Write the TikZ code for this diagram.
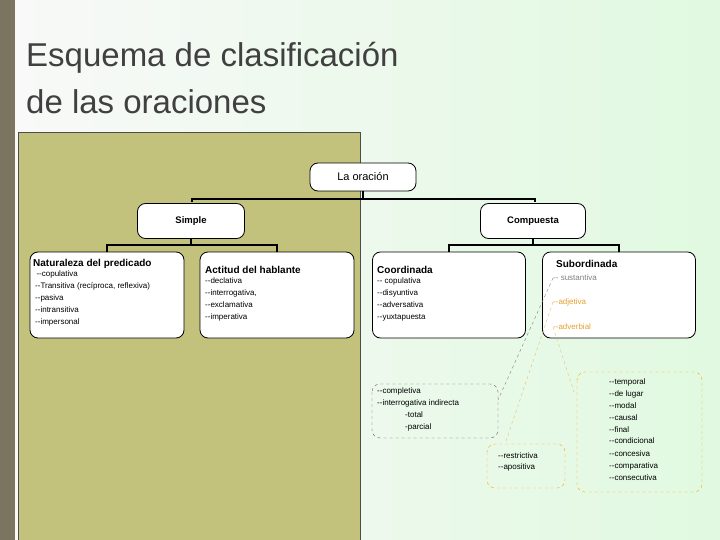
\documentclass[tikz,border=0pt]{standalone}
\usepackage{fontspec}
\setmainfont[Ligatures=TeXOff]{Liberation Sans}
\begin{document}
\begin{tikzpicture}[x=1pt,y=-1pt,
  box/.style={draw,thick,rounded corners=8pt,fill=white,inner sep=0pt},
  hd/.style={font=\bfseries\fontsize{10}{12}\selectfont,anchor=west,inner sep=0pt},
  it/.style={font=\fontsize{8}{12}\selectfont,anchor=north west,align=left,inner sep=0pt},
  bar/.style={line width=2.2pt},
  gdash/.style={draw=gray!80!black,dashed,rounded corners=8pt},
  odash/.style={draw=orange!70!yellow,dashed,rounded corners=8pt}]
\definecolor{olive}{HTML}{C2C27C}
\definecolor{side}{HTML}{7A7460}
\definecolor{ocol}{HTML}{E8A030}
\shade[left color=white!95!gray,right color=green!10!white!95!gray] (0,0) rectangle (720,540);
\useasboundingbox (0,0) rectangle (720,540);
\fill[side] (0,0) rectangle (15,540);
\fill[olive,draw=black!70] (18,132) rectangle (360,545);
\node[anchor=north west,align=left,font=\fontsize{33}{47}\selectfont,text=black!75,inner sep=0pt] (title) at (26,42) {Esquema de clasificación\\de las oraciones};
% boxes
\node[box,minimum width=106pt,minimum height=28pt,font=\fontsize{11}{13}\selectfont] (or) at (363,177) {La oración};
\node[box,minimum width=107pt,minimum height=35pt,font=\bfseries\fontsize{9.5}{11}\selectfont] (si) at (191,221) {Simple};
\node[box,minimum width=105pt,minimum height=35pt,font=\bfseries\fontsize{9.5}{11}\selectfont] (co) at (533,221) {Compuesta};
\node[box,minimum width=154pt,minimum height=86pt] (na) at (107,295) {};
\node[box,minimum width=154pt,minimum height=86pt] (ac) at (277,295) {};
\node[box,minimum width=153pt,minimum height=86pt] (cd) at (449,295) {};
\node[box,minimum width=153pt,minimum height=86pt] (sb) at (619,295) {};
% connectors
\draw[bar] (or.south) -- (363,199) coordinate (j1);
\draw[bar] (192,202) |- (j1) -| (535,202);
\draw[bar] (si.south) -- (191,245) coordinate (j2);
\draw[bar] (107,252) |- (j2) -| (277,252);
\draw[bar] (co.south) -- (533,245) coordinate (j3);
\draw[bar] (449,252) |- (j3) -| (619,252);
% texts
\node[hd] (nah) at (33,264) {Naturaleza del predicado};
\node[it] at (35,271) {\,--copulativa\\--Transitiva (recíproca, reflexiva)\\--pasiva\\--intransitiva\\--impersonal};
\node[hd] (ach) at (205,270) {Actitud del hablante};
\node[it] at (205,278) {--declativa\\--interrogativa,\\--exclamativa\\--imperativa};
\node[hd] (cdh) at (377,270) {Coordinada};
\node[it] at (377,278) {-- copulativa\\--disyuntiva\\--adversativa\\--yuxtapuesta};
\node[hd] (sbh) at (556,264) {Subordinada};
\node[font=\fontsize{8}{9}\selectfont,text=gray,anchor=west,inner sep=0pt] (sus) at (553,278) {-- sustantiva};
\node[font=\fontsize{8}{9}\selectfont,text=ocol,anchor=west,inner sep=0pt] (adj) at (553,302) {--adjetiva};
\node[font=\fontsize{8}{9}\selectfont,text=ocol,anchor=west,inner sep=0pt] (adv) at (553,327) {--adverbial};
% dashed boxes
\draw[gdash] (372,384) rectangle (498,438);
\node[it] (comp) at (377,388) {--completiva\\--interrogativa indirecta\\\hspace*{28pt}-total\\\hspace*{28pt}-parcial};
\draw[odash] (487,444) rectangle (565,488);
\node[it] (res) at (498,452) {--restrictiva\\--apositiva};
\draw[odash] (577,372) rectangle (702,492);
\node[it] (tem) at (609,378) {--temporal\\--de lugar\\--modal\\--causal\\--final\\--condicional\\--concesiva\\--comparativa\\--consecutiva};
\coordinate (cb) at (498,400);
\coordinate (rb) at (505,444);
\coordinate (tb) at (574,392);
\draw[gray,dashed] (sus.west) -- (cb);
\draw[ocol!70,dashed] (adj.west) -- (rb);
\draw[ocol!70,dashed] (adv.west) -- (tb);
\end{tikzpicture}
\end{document}
